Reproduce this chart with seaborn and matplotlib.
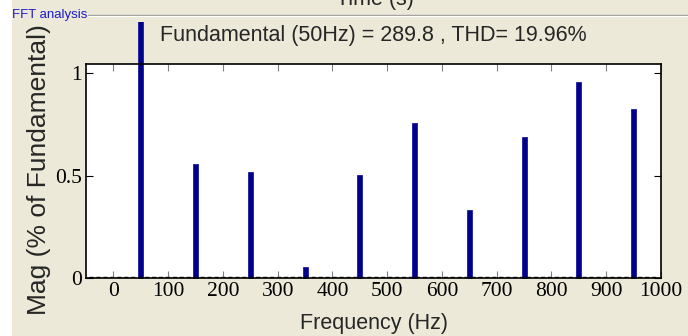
import numpy as np
import pandas as pd
import matplotlib
matplotlib.use("Agg")
import matplotlib.pyplot as plt
import seaborn as sns
from matplotlib.transforms import Bbox, TransformedBbox

# harmonic spectrum
freqs = [50, 150, 250, 350, 450, 550, 650, 750, 850, 950]
mags = [100, 0.556, 0.517, 0.054, 0.502, 0.756, 0.332, 0.688, 0.956, 0.824]
xticks = [0, 100, 200, 300, 400, 500, 600, 700, 800, 900, 1000]
yticks = [0, 0.5, 1]

df = pd.DataFrame({"freq": freqs, "mag": mags})

bg = "#ECE9D8"
sns.set_style("white")
plt.rcParams["font.family"] = ["Liberation Sans", "DejaVu Sans"]

fig = plt.figure(figsize=(6.88, 3.36), dpi=100, facecolor=bg)
ax = fig.add_axes([86/688, 1-278/336, 575/688, 214/336])
ax.set_facecolor("white")

sns.barplot(data=df, x="freq", y="mag", native_scale=True, width=0.09,
            color="#00008B", saturation=1, ax=ax, edgecolor="#1a1aa0", linewidth=0.6)

# bars above the axes run up to the panel frame, like the matlab gui
clipbox = TransformedBbox(Bbox([[0, 0], [1, 1-22/336]]), fig.transFigure)
for p in ax.patches:
    p.set_clip_path(None)
    p.set_clip_box(clipbox)

ax.plot([-45, 995], [0.004, 0.004], color="black", lw=1, dashes=(3, 2), zorder=1)

ax.set_xlim(-50, 1000)
ax.set_ylim(0, 1.044)
ax.set_xticks(xticks)
ax.set_yticks(yticks)
ax.set_xticklabels([str(t) for t in xticks], family="Liberation Serif", fontsize=15.5)
ax.set_yticklabels(["0", "0.5", "1"], family="Liberation Serif", fontsize=15.5)
ax.tick_params(direction="in", length=5, top=True, right=True, colors="black",
               bottom=True, left=True, pad=3)
ax.tick_params(axis="x", which="both", color="#808080")
for s in ax.spines.values():
    s.set_color("black")
    s.set_linewidth(1.2)

ax.set_xlabel("Frequency (Hz)", fontsize=15.5)
ax.xaxis.set_label_coords((374-86)/575, -(323-278)/214)
ax.xaxis.label.set_va("center")
ax.set_ylabel("Mag (% of Fundamental)", fontsize=19)
ax.yaxis.set_label_coords((39-86)/575, (278-170)/214)
ax.yaxis.label.set_va("center")
ax.set_title("Fundamental (50Hz) = 289.8 , THD= 19.96%", fontsize=15.5,
             y=(278-36)/214, va="center", pad=0)

# gui leftovers: left white strip, group box frame and label, clipped "Time (s)"
fig.patches.append(plt.Rectangle((0, 0), 12/688, 1, transform=fig.transFigure,
                                 facecolor="white", edgecolor="none"))
fig.lines.append(plt.Line2D([88/688, 1], [1-15/336, 1-15/336], transform=fig.transFigure,
                            color="#a0a0a0", lw=1))
fig.lines.append(plt.Line2D([88/688, 1], [1-16/336, 1-16/336], transform=fig.transFigure,
                            color="white", lw=0.8))
fig.text(12/688, 1-15/336, "FFT analysis", color="#1c1ccc", fontsize=9.5,
         va="center", ha="left")
fig.text(375/688, 1+1/336, "Time (s)", fontsize=15.5, ha="center", va="center")

fig.savefig("out.png", dpi=100, facecolor=bg)
